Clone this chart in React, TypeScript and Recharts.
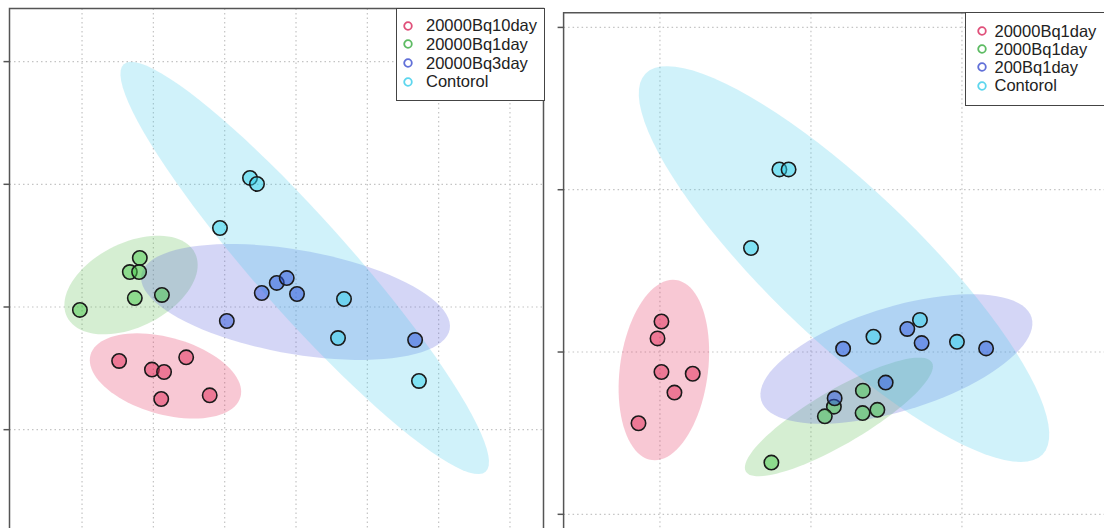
import { ScatterChart, Scatter, XAxis, YAxis, CartesianGrid, ReferenceArea } from 'recharts';

type Pt = { x: number; y: number };
type Ell = { cx: number; cy: number; ax: number; ay: number; bx: number; by: number };

// legend labels
const leftLabels = ['20000Bq10day', '20000Bq1day', '20000Bq3day', 'Contorol'];
const rightLabels = ['20000Bq1day', '2000Bq1day', '200Bq1day', 'Contorol'];

// left panel scores
const left10day: Pt[] = [
  { x: -2.48, y: -0.44 }, { x: -2.02, y: -0.51 }, { x: -1.85, y: -0.53 },
  { x: -1.54, y: -0.41 }, { x: -1.89, y: -0.75 }, { x: -1.21, y: -0.72 },
];
const left1day: Pt[] = [
  { x: -2.19, y: 0.4 }, { x: -2.33, y: 0.285 }, { x: -2.2, y: 0.285 },
  { x: -2.26, y: 0.073 }, { x: -1.88, y: 0.098 }, { x: -3.03, y: -0.024 },
];
const left3day: Pt[] = [
  { x: -0.48, y: 0.114 }, { x: -0.27, y: 0.196 }, { x: -0.13, y: 0.236 },
  { x: 0.014, y: 0.106 }, { x: -0.97, y: -0.114 }, { x: 1.67, y: -0.269 },
];
const leftControl: Pt[] = [
  { x: -0.645, y: 1.052 }, { x: -0.547, y: 1.003 }, { x: -1.066, y: 0.644 },
  { x: 0.673, y: 0.065 }, { x: 0.589, y: -0.253 }, { x: 1.724, y: -0.603 },
];

// right panel scores
const right20000: Pt[] = [
  { x: -0.99, y: 0.188 }, { x: -1.016, y: 0.084 }, { x: -0.99, y: -0.123 },
  { x: -0.783, y: -0.134 }, { x: -0.904, y: -0.25 }, { x: -1.142, y: -0.439 },
];
const right2000: Pt[] = [
  { x: 0.344, y: -0.238 }, { x: 0.152, y: -0.337 }, { x: 0.092, y: -0.396 },
  { x: 0.342, y: -0.376 }, { x: 0.44, y: -0.356 }, { x: -0.262, y: -0.681 },
];
const right200: Pt[] = [
  { x: 0.213, y: 0.02 }, { x: 0.638, y: 0.142 }, { x: 0.733, y: 0.055 },
  { x: 1.16, y: 0.022 }, { x: 0.495, y: -0.188 }, { x: 0.157, y: -0.285 },
];
const rightControl: Pt[] = [
  { x: -0.209, y: 1.125 }, { x: -0.148, y: 1.125 }, { x: -0.397, y: 0.641 },
  { x: 0.414, y: 0.094 }, { x: 0.722, y: 0.198 }, { x: 0.967, y: 0.063 },
];

// confidence ellipses: centre + two conjugate semi-axis vectors
const leftEllipses: Ell[] = [
  { cx: -1.83, cy: -0.562, ax: 1.051, ay: -0.172, bx: -0.146, by: -0.302 },
  { cx: -2.313, cy: 0.179, ax: 0.897, ay: 0.26, bx: 0.262, by: -0.307 },
  { cx: -0.007, cy: 0.041, ax: 2.162, ay: -0.222, bx: -0.126, by: -0.417 },
  { cx: 0.122, cy: 0.318, ax: 2.536, ay: -1.661, bx: -0.493, by: -0.254 },
];
const rightEllipses: Ell[] = [
  { cx: -0.974, cy: -0.111, ax: 0.0795, ay: 0.555, bx: 0.289, by: -0.0357 },
  { cx: 0.185, cy: -0.4, ax: 0.616, ay: 0.336, bx: 0.0907, by: -0.1436 },
  { cx: 0.566, cy: -0.043, ax: 0.895, ay: 0.256, bx: 0.101, by: -0.306 },
  { cx: 0.219, cy: 0.542, ax: 1.315, ay: -1.173, bx: -0.344, by: -0.333 },
];

const pointFill = ['rgba(225,40,85,0.5)', 'rgba(70,200,72,0.5)', 'rgba(45,85,220,0.5)', 'rgba(45,210,235,0.5)'];
const ellipseFill = ['rgba(227,35,83,0.25)', 'rgba(87,187,75,0.25)', 'rgba(84,92,219,0.25)', 'rgba(67,203,235,0.25)'];
const legendColor = ['#e0507a', '#5dbb63', '#6170d8', '#5dd6ee'];

const ring = (e: Ell): Pt[] => {
  const out: Pt[] = [];
  for (let i = 0; i <= 90; i++) {
    const t = (i / 90) * Math.PI * 2;
    out.push({
      x: e.cx + e.ax * Math.cos(t) + e.bx * Math.sin(t),
      y: e.cy + e.ay * Math.cos(t) + e.by * Math.sin(t),
    });
  }
  return out;
};

const Dot = (p: any) => (
  <circle cx={p.cx} cy={p.cy} r={7.2} fill={p.fill} stroke="#1a1a1a" strokeWidth={1.6} />
);

type PanelProps = {
  width: number;
  height: number;
  margin: { top: number; right: number; bottom: number; left: number };
  yWidth: number;
  xDomain: [number, number];
  yDomain: [number, number];
  xTicks: number[];
  yTicks: number[];
  groups: Pt[][];
  ellipses: Ell[];
};

const Panel = ({ width, height, margin, yWidth, xDomain, yDomain, xTicks, yTicks, groups, ellipses }: PanelProps) => (
  <ScatterChart width={width} height={height} margin={margin}>
    <CartesianGrid
      stroke="#c4c4c4"
      strokeDasharray="1.5 3"
      strokeWidth={1.2}
      horizontalValues={yTicks}
      verticalValues={xTicks}
    />
    <XAxis type="number" dataKey="x" domain={xDomain} ticks={xTicks} hide allowDataOverflow />
    <YAxis
      type="number"
      dataKey="y"
      domain={yDomain}
      ticks={yTicks}
      width={yWidth}
      tick={() => <g />}
      tickSize={6}
      axisLine={false}
      stroke="#555"
      tickLine={{ stroke: '#555', strokeWidth: 1.5 }}
      allowDataOverflow
    />
    <ReferenceArea
      x1={xDomain[0]}
      x2={xDomain[1]}
      y1={yDomain[0]}
      y2={yDomain[1]}
      fill="none"
      stroke="#555"
      strokeWidth={1.5}
      ifOverflow="visible"
    />
    {ellipses.map((e, i) => (
      <Scatter
        key={'e' + i}
        data={ring(e)}
        line={{ fill: ellipseFill[i], stroke: 'none' }}
        lineType="joint"
        shape={() => <g />}
        isAnimationActive={false}
      />
    ))}
    {groups.map((g, i) => (
      <Scatter key={'p' + i} data={g} fill={pointFill[i]} shape={Dot} isAnimationActive={false} />
    ))}
  </ScatterChart>
);

const LegendBox = ({ labels, style, markX, textX, rowH, padTop }: any) => (
  <div
    style={{
      position: 'absolute',
      boxSizing: 'border-box',
      border: '1.5px solid #444',
      background: '#fff',
      paddingTop: padTop,
      fontFamily: '"Liberation Sans", Arial, sans-serif',
      fontSize: 16.5,
      color: '#222',
      ...style,
    }}
  >
    {labels.map((l: string, i: number) => (
      <div key={l} style={{ position: 'relative', height: rowH, lineHeight: rowH + 'px' }}>
        <svg width={12} height={12} style={{ position: 'absolute', left: markX - 6, top: rowH / 2 - 6 }}>
          <circle cx={6} cy={6} r={3.8} fill="none" stroke={legendColor[i]} strokeWidth={1.8} />
        </svg>
        <span style={{ position: 'absolute', left: textX, top: 0, whiteSpace: 'nowrap' }}>{l}</span>
      </div>
    ))}
  </div>
);

export default function App() {
  return (
    <div style={{ position: 'fixed', left: 0, top: 0, width: 1104, height: 528, overflow: 'hidden', background: '#fff' }}>
      <div style={{ position: 'absolute', left: 0, top: 0 }}>
        <Panel
          width={552}
          height={560}
          margin={{ top: 8.5, right: 8.5, bottom: 15, left: 0 }}
          yWidth={9.5}
          xDomain={[-4.017, 3.47]}
          yDomain={[-1.94, 2.433]}
          xTicks={[-3, -2, -1, 0, 1, 2, 3]}
          yTicks={[-1, 0, 1, 2]}
          groups={[left10day, left1day, left3day, leftControl]}
          ellipses={leftEllipses}
        />
      </div>
      <div style={{ position: 'absolute', left: 552, top: 0 }}>
        <Panel
          width={566}
          height={560}
          margin={{ top: 12.8, right: 4, bottom: 15, left: 0 }}
          yWidth={11.6}
          xDomain={[-1.638, 2.007]}
          yDomain={[-1.189, 2.09]}
          xTicks={[-1, 0, 1]}
          yTicks={[-1, 0, 1, 2]}
          groups={[right20000, right2000, right200, rightControl]}
          ellipses={rightEllipses}
        />
      </div>
      <LegendBox
        labels={leftLabels}
        style={{ left: 396, top: 7.75, width: 148.5, height: 93 }}
        markX={11}
        textX={29}
        rowH={18.7}
        padTop={7.5}
      />
      <LegendBox
        labels={rightLabels}
        style={{ left: 965, top: 12, width: 150, height: 94 }}
        markX={15.5}
        textX={28.5}
        rowH={18.3}
        padTop={8.5}
      />
    </div>
  );
}
